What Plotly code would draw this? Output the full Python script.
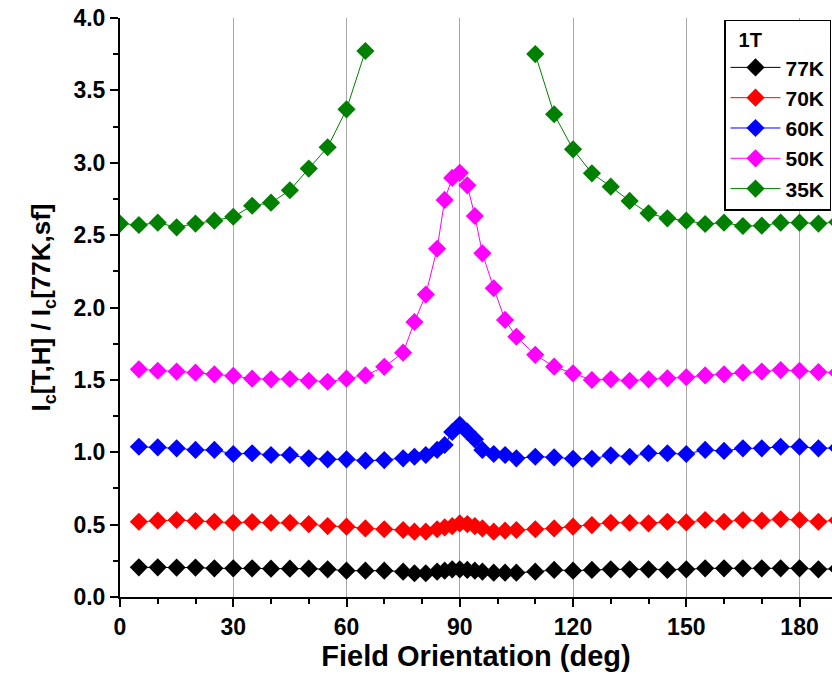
import plotly.graph_objects as go

# Field orientation angles (deg)
angles = [5, 10, 15, 20, 25, 30, 35, 40, 45, 50, 55, 60, 65, 70, 75,
          78, 81, 84, 86, 88, 90, 92, 94, 96, 99, 102, 105,
          110, 115, 120, 125, 130, 135, 140, 145, 150, 155, 160, 165,
          170, 175, 180, 185, 190]

ic_77k = [0.205, 0.205, 0.203, 0.203, 0.198, 0.198, 0.198, 0.196, 0.196, 0.196,
          0.191, 0.182, 0.182, 0.182, 0.175, 0.164, 0.164, 0.175, 0.182, 0.191,
          0.191, 0.187, 0.182, 0.175, 0.168, 0.168, 0.168, 0.175, 0.187, 0.182,
          0.187, 0.191, 0.191, 0.191, 0.187, 0.191, 0.198, 0.198, 0.198, 0.198,
          0.198, 0.198, 0.191, 0.195]

ic_70k = [0.520, 0.527, 0.532, 0.525, 0.520, 0.513, 0.518, 0.513, 0.513, 0.504,
          0.490, 0.486, 0.474, 0.468, 0.463, 0.451, 0.451, 0.468, 0.481, 0.490,
          0.508, 0.504, 0.490, 0.474, 0.451, 0.458, 0.463, 0.468, 0.474, 0.486,
          0.497, 0.513, 0.513, 0.509, 0.520, 0.515, 0.532, 0.520, 0.532, 0.527,
          0.537, 0.532, 0.520, 0.530]

ic_60k = [1.038, 1.034, 1.027, 1.016, 1.016, 0.988, 0.993, 0.981, 0.981, 0.958,
          0.951, 0.951, 0.942, 0.946, 0.958, 0.969, 0.981, 1.016, 1.050, 1.140,
          1.190, 1.142, 1.089, 1.016, 0.988, 0.981, 0.958, 0.969, 0.965, 0.955,
          0.955, 0.979, 0.969, 0.993, 0.993, 0.988, 1.016, 1.009, 1.027, 1.027,
          1.038, 1.038, 1.027, 1.030]

ic_50k = [1.573, 1.563, 1.557, 1.550, 1.538, 1.527, 1.508, 1.504, 1.506, 1.494,
          1.487, 1.508, 1.531, 1.590, 1.688, 1.900, 2.089, 2.406, 2.743, 2.895,
          2.931, 2.844, 2.632, 2.374, 2.133, 1.914, 1.798, 1.673, 1.591, 1.545,
          1.499, 1.504, 1.494, 1.504, 1.511, 1.518, 1.531, 1.538, 1.550, 1.557,
          1.568, 1.563, 1.554, 1.550]

# 35K: no data between 65 and 110 deg
angles_35k = [0, 5, 10, 15, 20, 25, 30, 35, 40, 45, 50, 55, 60, 65, None,
              110, 115, 120, 125, 130, 135, 140, 145, 150, 155, 160, 165,
              170, 175, 180, 185, 190]
ic_35k = [2.580, 2.570, 2.586, 2.554, 2.580, 2.600, 2.627, 2.703, 2.724, 2.810,
          2.960, 3.107, 3.369, 3.772, None,
          3.751, 3.335, 3.093, 2.927, 2.835, 2.736, 2.651, 2.616, 2.600, 2.577,
          2.586, 2.563, 2.565, 2.586, 2.586, 2.580, 2.590]

series = [
    ("77K", angles, ic_77k, "#000000"),
    ("70K", angles, ic_70k, "#ff0000"),
    ("60K", angles, ic_60k, "#0000ff"),
    ("50K", angles, ic_50k, "#ff00ff"),
    ("35K", angles_35k, ic_35k, "#008000"),
]

FONT = "Liberation Sans, Arial, sans-serif"

fig = go.Figure()
for name, xs, ys, color in series:
    fig.add_trace(go.Scatter(
        x=xs, y=ys, name=name, mode="lines+markers",
        line=dict(color=color, width=1),
        marker=dict(symbol="diamond", size=14, color=color),
        connectgaps=False,
    ))

fig.update_layout(
    width=832, height=692,
    margin=dict(l=120, r=0, t=18, b=95, autoexpand=False),
    plot_bgcolor="white", paper_bgcolor="white",
    font=dict(family=FONT, color="black"),
    showlegend=True,
    legend=dict(
        x=(724 - 120) / 712, y=0.997, xanchor="left", yanchor="top",
        bordercolor="black", borderwidth=1.5, bgcolor="white",
        font=dict(size=21, family=FONT, weight="bold"),
        title=dict(text="  1T", font=dict(size=20, family=FONT, weight="bold")),
        itemwidth=50,
        tracegroupgap=0,
    ),
)

fig.update_xaxes(
    range=[0, 188.6], tick0=0, dtick=30,
    showline=True, linewidth=2, linecolor="black",
    ticks="outside", ticklen=8, tickwidth=2, tickcolor="black",
    minor=dict(dtick=10, ticks="outside", ticklen=5, tickwidth=2, tickcolor="black", showgrid=False),
    showgrid=True, gridcolor="#a8a8a8", gridwidth=1,
    zeroline=False,
    tickfont=dict(size=23, family=FONT, weight="bold"),
    title=dict(text="Field Orientation (deg)", standoff=0,
               font=dict(size=29, family=FONT, weight="bold")),
)

fig.update_yaxes(
    range=[0, 4.0], tick0=0, dtick=0.5, tickformat=".1f",
    showline=True, linewidth=2, linecolor="black",
    ticks="outside", ticklen=8, tickwidth=2, tickcolor="black",
    minor=dict(dtick=0.25, ticks="outside", ticklen=5, tickwidth=2, tickcolor="black", showgrid=False),
    showgrid=False, zeroline=False,
    tickfont=dict(size=23, family=FONT, weight="bold"),
    title=dict(text="I<sub>c</sub>[T,H] / I<sub>c</sub>[77K,sf]", standoff=15,
               font=dict(size=26, family=FONT, weight="bold")),
)

fig.write_html("out.html")
